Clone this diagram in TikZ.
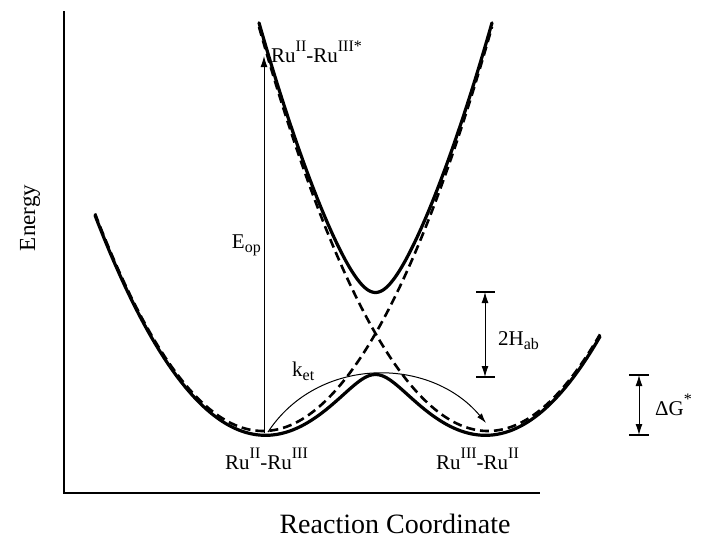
\documentclass[tikz,border=0pt]{standalone}
\usepackage{fontspec}
\setmainfont{Liberation Serif}
\usetikzlibrary{arrows.meta}
\newcommand{\mysup}[1]{\raisebox{0.5em}{\fontsize{16}{16}\selectfont #1}}
\newcommand{\mysub}[1]{\raisebox{-0.22em}{\fontsize{16}{16}\selectfont #1}}
\begin{document}
\begin{tikzpicture}[x=1pt,y=-1pt,
 declare function={
   ea(\x)=0.0077*(\x-263)*(\x-263);
   eb(\x)=0.0077*(\x-488)*(\x-488);
   hh(\x)=10*sqrt(((ea(\x)-eb(\x))/20)*((ea(\x)-eb(\x))/20)+16.81);
 },
 curve/.style={line width=3.2pt, line cap=round, line join=round},
 diab/.style={line width=2.6pt, dash pattern=on 9pt off 5pt},
 thinline/.style={line width=1pt},
 tickline/.style={line width=1.5pt},
 axisline/.style={line width=1.4pt},
 lbl/.style={inner sep=0pt, font=\fontsize{21}{25}\selectfont},
 tip/.style={-{Latex[length=11pt,width=7pt]}},
 dimarrow/.style={line width=1pt, {Latex[length=11pt,width=7pt]}-{Latex[length=11pt,width=7pt]}},
]
\useasboundingbox (0,0) rectangle (704,544);

% axes
\coordinate (ytop) at (64,11);
\coordinate (orig) at (64,493);
\coordinate (xend) at (540,493);
\draw[axisline] (ytop) -- (orig) -- (xend);

% diabatic (dashed) parabolas
\draw[diab] plot[domain=95:492, samples=120, smooth] (\x,{431-ea(\x)});
\draw[diab] plot[domain=259:600, samples=120, smooth] (\x,{431-eb(\x)});

% adiabatic curves
\draw[curve] plot[domain=95:600, samples=200, smooth] (\x,{431-((ea(\x)+eb(\x))/2-hh(\x))});
\draw[curve] plot[domain=259:492, samples=150, smooth] (\x,{431-((ea(\x)+eb(\x))/2+hh(\x))});

% E_op arrow
\coordinate (eopS) at (264,433);
\coordinate (eopE) at (264,56);
\draw[thinline, tip] (eopS) -- (eopE);

% k_et arrow
\coordinate (ketS) at (268,432);
\coordinate (ketE) at (486,423);
\draw[thinline, -{Latex[length=10pt,width=6pt]}] (ketS) .. controls (318,356) and (430,356) .. (ketE);

% 2H_ab
\coordinate (hT) at (485,292);
\coordinate (hB) at (485,377);
\draw[dimarrow] (hT) -- (hB);
\draw[tickline] ([xshift=-9pt]hT) -- ([xshift=10pt]hT);
\draw[tickline] ([xshift=-9pt]hB) -- ([xshift=10pt]hB);

% Delta G*
\coordinate (gT) at (639,375);
\coordinate (gB) at (639,435);
\draw[dimarrow] (gT) -- (gB);
\draw[tickline] ([xshift=-10pt]gT) -- ([xshift=10pt]gT);
\draw[tickline] ([xshift=-10pt]gB) -- ([xshift=10pt]gB);

% labels
\node[lbl, anchor=base west] (top) at (271,62) {Ru\mysup{II}-Ru\mysup{III*}};
\node[lbl, anchor=base west] (lmin) at (225,469) {Ru\mysup{II}-Ru\mysup{III}};
\node[lbl, anchor=base west] (rmin) at (436,469) {Ru\mysup{III}-Ru\mysup{II}};
\node[lbl, anchor=base east] (eop) at (261,248) {E\mysub{op}};
\node[lbl, anchor=base west] (ket) at (292,376) {k\mysub{et}};
\node[lbl, anchor=base west] (hab) at (498,345) {2H\mysub{ab}};
\node[lbl, anchor=base west] (dg) at (655,415) {ΔG\mysup{*}};

\node[inner sep=0pt, font=\fontsize{23}{27}\selectfont, rotate=90] (ylab) at (30,218) {Energy};
\node[inner sep=0pt, font=\fontsize{28}{32}\selectfont, anchor=base] (xlab) at (395,533) {Reaction Coordinate};
\end{tikzpicture}
\end{document}
